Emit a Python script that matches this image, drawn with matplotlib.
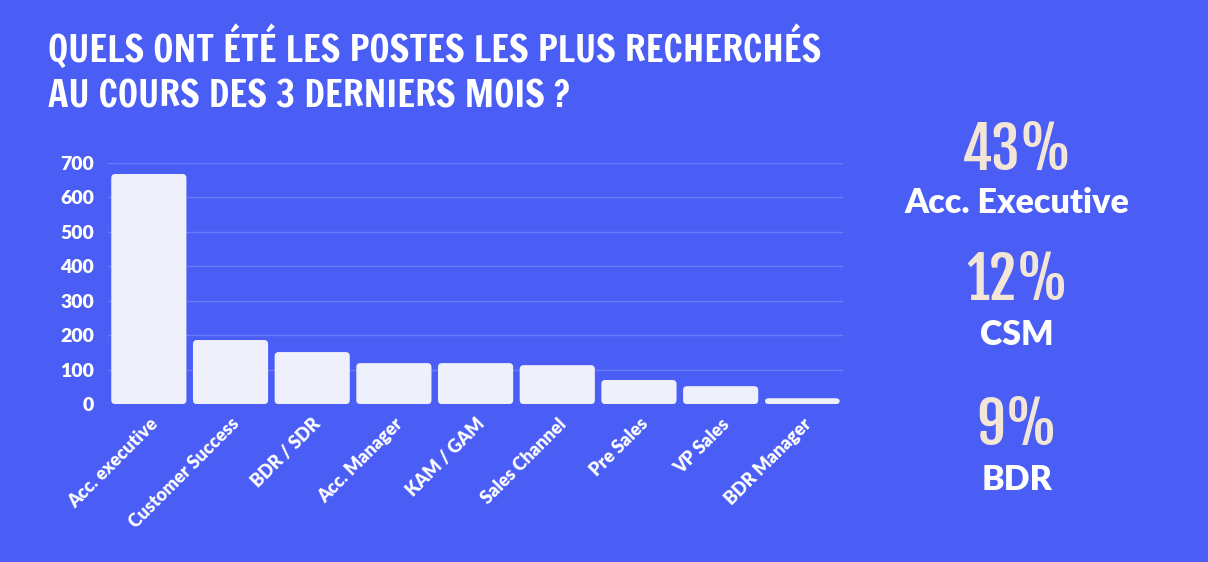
import matplotlib.pyplot as plt
from matplotlib.patches import FancyBboxPatch

# Data
postes = ["Acc. executive", "Customer Success", "BDR / SDR", "Acc. Manager",
          "KAM / GAM", "Sales Channel", "Pre Sales", "VP Sales", "BDR Manager"]
valeurs = [668, 186, 151, 119, 119, 113, 70, 52, 17]
y_ticks = [0, 100, 200, 300, 400, 500, 600, 700]

stats_pct = ["43%", "12%", "9%"]
stats_label = ["Acc. Executive", "CSM", "BDR"]

BG = "#4a5ef6"
BAR = "#eef0fc"
GRID = "#6a7cf8"
CREAM = "#f3e6d6"
TITLE_FONT = "Francois One"
PCT_FONT = "Fjalla One"
LABEL_FONT = "Lato"

fig = plt.figure(figsize=(12.08, 5.62), dpi=100, facecolor=BG)
ax = fig.add_axes([0.0894, 0.281, 0.6086, 0.429])
ax.set_facecolor(BG)

bars = ax.bar(range(len(postes)), valeurs, width=0.92, color=BAR, zorder=3)
# swap plain bars for slightly rounded ones, using the bars' own bounds
for b in bars:
    x, y = b.get_x(), b.get_y()
    w, h = b.get_width(), b.get_height()
    b.set_visible(False)
    ax.add_patch(FancyBboxPatch((x, y), w, h,
                                boxstyle="round,pad=0,rounding_size=0.05",
                                mutation_aspect=230, facecolor=BAR,
                                edgecolor="none", zorder=3))

ax.set_xlim(-0.5, len(postes) - 0.5)
ax.set_ylim(0, 700)
ax.set_yticks(y_ticks)
ax.yaxis.grid(True, color=GRID, linewidth=1)
ax.set_axisbelow(True)
for s in ax.spines.values():
    s.set_visible(False)
ax.tick_params(length=0, colors="white")
ax.tick_params(axis="y", pad=10)
ax.tick_params(axis="x", pad=8)
ax.set_xticks(range(len(postes)))
ax.set_xticklabels(postes, rotation=45, ha="right", rotation_mode="anchor",
                   family=LABEL_FONT, fontweight="heavy", fontsize=13)
for lbl in ax.get_yticklabels():
    lbl.set_family(LABEL_FONT)
    lbl.set_fontweight("heavy")
    lbl.set_fontsize(14)

# Title, sized so the first line spans the same width as in the reference
t1 = fig.text(0.040, 0.889, "QUELS ONT ÉTÉ LES POSTES LES PLUS RECHERCHÉS",
              family=TITLE_FONT, fontsize=25, color="white", va="baseline")
t2 = fig.text(0.040, 0.808, "AU COURS DES 3 DERNIERS MOIS ?",
              family=TITLE_FONT, fontsize=25, color="white", va="baseline")
r = fig.canvas.get_renderer()
w = t1.get_window_extent(r).width
size = 25 * 774 / w
t1.set_fontsize(size)
t2.set_fontsize(size)

# Side stats
pct_y = [0.698, 0.467, 0.208]
lab_y = [0.621, 0.386, 0.128]
for p, l, py, ly in zip(stats_pct, stats_label, pct_y, lab_y):
    fig.text(0.842, py, p, ha="center", va="baseline", color=CREAM,
             family=PCT_FONT, fontsize=41)
    fig.text(0.842, ly, l, ha="center", va="baseline", color="white",
             family=LABEL_FONT, fontweight="heavy", fontsize=24.5)

plt.savefig("out.png", dpi=100, facecolor=BG)
